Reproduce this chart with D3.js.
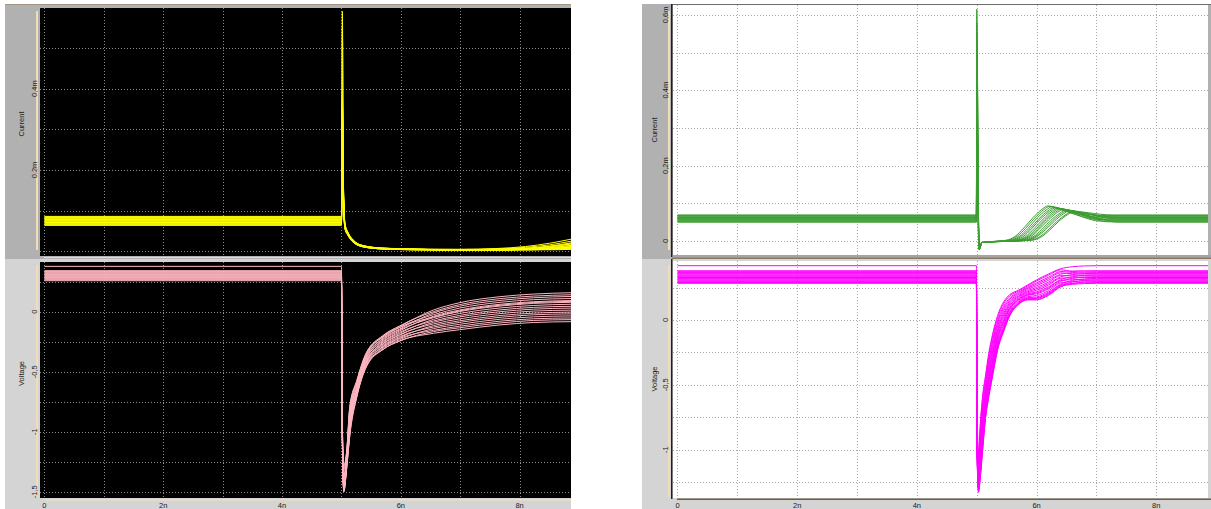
<!DOCTYPE html>
<html>
<head>
<meta charset="utf-8">
<script src="https://cdn.jsdelivr.net/npm/d3@7"></script>
<style>
  html, body { margin: 0; padding: 0; background: #ffffff; }
  svg { display: block; }
  text { font-family: "Liberation Sans Narrow", "Liberation Sans", "DejaVu Sans", sans-serif; font-size: 7.5px; fill: #1a1a1a; }
</style>
</head>
<body>
<svg id="chart" width="1211" height="509"></svg>
<script>
// ---------- axes ----------
const X_DOMAIN = [-0.075, 8.865];              // ns
const gridTimes = [0, 1, 2, 3, 4, 5, 6, 7, 8];
const timeTicks = [0, 2, 4, 6, 8];
const timeTickLabels = ["0", "2n", "4n", "6n", "8n"];

const leftCurrentGrid = [0, 0.1, 0.2, 0.3, 0.4, 0.5];
const leftCurrentTicks = [0.2, 0.4];
const leftCurrentTickLabels = ["0,2m", "0,4m"];
const rightCurrentGrid = [0, 0.1, 0.2, 0.3, 0.4, 0.5, 0.6];
const rightCurrentTicks = [0, 0.2, 0.4, 0.6];
const rightCurrentTickLabels = ["0", "0,2m", "0,4m", "0,6m"];
const leftVoltageGrid = [0.25, 0, -0.25, -0.5, -0.75, -1, -1.25, -1.5];
const leftVoltageTicks = [0, -0.5, -1, -1.5];
const leftVoltageTickLabels = ["0", "-0,5", "-1", "-1,5"];
const rightVoltageGrid = [0.25, 0, -0.25, -0.5, -0.75, -1, -1.25];
const rightVoltageTicks = [0, -0.5, -1];
const rightVoltageTickLabels = ["0", "-0,5", "-1"];

// ---------- left window: current (mA) ----------
const lcTimes = [0, 5.0, 5.015, 5.035, 5.06, 5.11, 5.2, 5.37, 5.7, 6.3, 7.0, 7.6, 8.1, 8.5, 8.865];
const lcValues = [
  [0.086, 0.086, 0.590, 0.150, 0.066, 0.046, 0.027, 0.014, 0.008, 0.005, 0.005, 0.007, 0.012, 0.020, 0.030],
  [0.0845, 0.0845, 0.550, 0.140, 0.064, 0.045, 0.026, 0.013, 0.008, 0.005, 0.004, 0.006, 0.010, 0.016, 0.025],
  [0.083, 0.083, 0.395, 0.135, 0.063, 0.044, 0.026, 0.013, 0.007, 0.005, 0.004, 0.004, 0.005, 0.008, 0.012],
  [0.0815, 0.0815, 0.380, 0.160, 0.068, 0.047, 0.028, 0.014, 0.008, 0.006, 0.005, 0.006, 0.008, 0.013, 0.021],
  [0.080, 0.080, 0.370, 0.130, 0.062, 0.043, 0.025, 0.012, 0.007, 0.005, 0.004, 0.004, 0.005, 0.006, 0.008],
  [0.0785, 0.0785, 0.360, 0.145, 0.065, 0.045, 0.026, 0.013, 0.007, 0.005, 0.004, 0.005, 0.007, 0.011, 0.018],
  [0.077, 0.077, 0.350, 0.125, 0.060, 0.042, 0.024, 0.012, 0.007, 0.005, 0.004, 0.004, 0.004, 0.005, 0.007],
  [0.0755, 0.0755, 0.340, 0.155, 0.067, 0.046, 0.027, 0.014, 0.008, 0.005, 0.004, 0.005, 0.006, 0.009, 0.015],
  [0.074, 0.074, 0.330, 0.120, 0.058, 0.041, 0.024, 0.012, 0.006, 0.004, 0.004, 0.004, 0.005, 0.007, 0.010],
  [0.0725, 0.0725, 0.320, 0.138, 0.063, 0.044, 0.025, 0.013, 0.007, 0.005, 0.004, 0.004, 0.005, 0.009, 0.014],
  [0.071, 0.071, 0.300, 0.118, 0.057, 0.040, 0.023, 0.011, 0.006, 0.004, 0.003, 0.004, 0.004, 0.005, 0.006],
  [0.0695, 0.0695, 0.280, 0.132, 0.061, 0.043, 0.025, 0.012, 0.007, 0.005, 0.004, 0.005, 0.007, 0.012, 0.019],
  [0.068, 0.068, 0.260, 0.115, 0.056, 0.040, 0.023, 0.011, 0.006, 0.004, 0.003, 0.003, 0.004, 0.005, 0.007],
  [0.0665, 0.0665, 0.240, 0.128, 0.060, 0.042, 0.024, 0.012, 0.007, 0.005, 0.004, 0.004, 0.005, 0.007, 0.011],
  [0.065, 0.065, 0.220, 0.112, 0.055, 0.039, 0.022, 0.011, 0.006, 0.004, 0.003, 0.003, 0.004, 0.004, 0.005],
  [0.064, 0.064, 0.200, 0.124, 0.059, 0.041, 0.024, 0.012, 0.006, 0.004, 0.004, 0.004, 0.005, 0.006, 0.009]
];

// ---------- left window: voltage (V) ----------
const lvTimes = [0, 5.0, 5.013, 5.04, 5.09, 5.14, 5.26, 5.42, 5.70, 5.98, 6.55, 6.99, 7.67, 8.23, 8.865];
const lvValues = [
  [0.342, 0.342, -0.90, -1.36, -1.180, -0.840, -0.598, -0.364, -0.203, -0.124, 0.014, 0.075, 0.125, 0.147, 0.158],
  [0.336, 0.336, -0.88, -1.32, -1.158, -0.803, -0.577, -0.346, -0.198, -0.118, 0.000, 0.059, 0.109, 0.130, 0.141],
  [0.331, 0.331, -0.93, -1.40, -1.203, -0.878, -0.619, -0.382, -0.221, -0.144, -0.011, 0.046, 0.094, 0.116, 0.127],
  [0.325, 0.325, -0.86, -1.30, -1.165, -0.815, -0.584, -0.352, -0.210, -0.131, -0.025, 0.030, 0.078, 0.100, 0.110],
  [0.320, 0.320, -0.95, -1.44, -1.218, -0.903, -0.633, -0.394, -0.237, -0.160, -0.038, 0.014, 0.062, 0.083, 0.093],
  [0.314, 0.314, -0.90, -1.38, -1.188, -0.853, -0.605, -0.370, -0.228, -0.151, -0.050, 0.001, 0.047, 0.069, 0.078],
  [0.309, 0.309, -0.97, -1.46, -1.240, -0.940, -0.654, -0.412, -0.255, -0.180, -0.064, -0.015, 0.031, 0.052, 0.062],
  [0.303, 0.303, -0.92, -1.41, -1.210, -0.890, -0.626, -0.388, -0.247, -0.171, -0.077, -0.031, 0.015, 0.036, 0.045],
  [0.297, 0.297, -0.98, -1.48, -1.255, -0.965, -0.668, -0.424, -0.270, -0.196, -0.089, -0.044, 0.000, 0.021, 0.030],
  [0.292, 0.292, -0.94, -1.45, -1.233, -0.928, -0.647, -0.406, -0.265, -0.190, -0.102, -0.060, -0.016, 0.005, 0.013],
  [0.286, 0.286, -1.00, -1.50, -1.278, -1.003, -0.689, -0.442, -0.289, -0.216, -0.116, -0.076, -0.032, -0.012, -0.003],
  [0.281, 0.281, -0.96, -1.47, -1.248, -0.953, -0.661, -0.418, -0.280, -0.207, -0.128, -0.089, -0.047, -0.026, -0.018],
  [0.275, 0.275, -0.99, -1.49, -1.293, -1.028, -0.703, -0.454, -0.304, -0.233, -0.141, -0.105, -0.063, -0.043, -0.035],
  [0.270, 0.270, -0.95, -1.46, -1.263, -0.978, -0.675, -0.430, -0.295, -0.223, -0.155, -0.121, -0.079, -0.059, -0.052],
  [0.264, 0.264, -1.00, -1.50, -1.300, -1.040, -0.710, -0.460, -0.315, -0.245, -0.166, -0.134, -0.094, -0.073, -0.066],
  [0.258, 0.258, -0.97, -1.48, -1.285, -1.015, -0.696, -0.448, -0.314, -0.243, -0.180, -0.150, -0.110, -0.090, -0.083],
  [0.378, 0.378, -0.85, -1.28, -1.150, -0.790, -0.570, -0.340, -0.210, -0.131, -0.044, 0.007, 0.054, 0.076, 0.086]
];

// ---------- right window: current (mA), one list of [t, I] per run ----------
const rcTraces = [
  [[0, 0.064], [4.995, 0.064], [5.0, 0.615], [5.04, -0.024], [5.09, -0.004], [5.49, 0.002], [5.64, 0.012], [5.79, 0.035], [5.94, 0.062], [6.09, 0.084], [6.19, 0.093], [6.34, 0.087], [6.54, 0.0785], [6.74, 0.070], [6.94, 0.064], [8.865, 0.064]],
  [[0, 0.058], [4.995, 0.058], [5.0, 0.580], [5.04, -0.022], [5.09, -0.004], [5.52, 0.002], [5.67, 0.012], [5.82, 0.034], [5.97, 0.061], [6.12, 0.083], [6.22, 0.092], [6.37, 0.085], [6.57, 0.075], [6.77, 0.065], [6.97, 0.058], [8.865, 0.058]],
  [[0, 0.068], [4.995, 0.068], [5.0, 0.550], [5.04, -0.020], [5.09, -0.004], [5.56, 0.002], [5.71, 0.012], [5.86, 0.034], [6.01, 0.061], [6.16, 0.082], [6.26, 0.091], [6.41, 0.086], [6.61, 0.080], [6.81, 0.073], [7.01, 0.068], [8.865, 0.068]],
  [[0, 0.053], [4.995, 0.053], [5.0, 0.500], [5.04, -0.018], [5.09, -0.004], [5.59, 0.002], [5.74, 0.012], [5.89, 0.033], [6.04, 0.059], [6.19, 0.080], [6.29, 0.089], [6.44, 0.082], [6.64, 0.071], [6.84, 0.060], [7.04, 0.053], [8.865, 0.053]],
  [[0, 0.061], [4.995, 0.061], [5.0, 0.450], [5.04, -0.021], [5.09, -0.004], [5.62, 0.002], [5.77, 0.011], [5.92, 0.033], [6.07, 0.059], [6.22, 0.079], [6.32, 0.088], [6.47, 0.083], [6.67, 0.075], [6.87, 0.066], [7.07, 0.061], [8.865, 0.061]],
  [[0, 0.056], [4.995, 0.056], [5.0, 0.400], [5.04, -0.017], [5.09, -0.004], [5.66, 0.002], [5.81, 0.011], [5.96, 0.033], [6.11, 0.058], [6.26, 0.079], [6.36, 0.087], [6.51, 0.081], [6.71, 0.072], [6.91, 0.062], [7.11, 0.056], [8.865, 0.056]],
  [[0, 0.066], [4.995, 0.066], [5.0, 0.380], [5.04, -0.015], [5.09, -0.004], [5.69, 0.002], [5.84, 0.011], [5.99, 0.032], [6.14, 0.057], [6.29, 0.078], [6.39, 0.086], [6.54, 0.082], [6.74, 0.076], [6.94, 0.070], [7.14, 0.066], [8.865, 0.066]],
  [[0, 0.051], [4.995, 0.051], [5.0, 0.370], [5.04, -0.023], [5.09, -0.004], [5.72, 0.002], [5.87, 0.011], [6.02, 0.032], [6.17, 0.057], [6.32, 0.077], [6.42, 0.085], [6.57, 0.078], [6.77, 0.068], [6.97, 0.058], [7.17, 0.051], [8.865, 0.051]],
  [[0, 0.063], [4.995, 0.063], [5.0, 0.360], [5.04, -0.019], [5.09, -0.004], [5.75, 0.002], [5.90, 0.011], [6.05, 0.032], [6.20, 0.056], [6.35, 0.076], [6.45, 0.084], [6.60, 0.080], [6.80, 0.074], [7.00, 0.067], [7.20, 0.063], [8.865, 0.063]],
  [[0, 0.055], [4.995, 0.055], [5.0, 0.300], [5.04, -0.016], [5.09, -0.004], [5.79, 0.002], [5.94, 0.011], [6.09, 0.031], [6.24, 0.055], [6.39, 0.074], [6.49, 0.082], [6.64, 0.077], [6.84, 0.069], [7.04, 0.060], [7.24, 0.055], [8.865, 0.055]],
  [[0, 0.069], [4.995, 0.069], [5.0, 0.250], [5.04, -0.020], [5.09, -0.004], [5.82, 0.002], [5.97, 0.011], [6.12, 0.030], [6.27, 0.054], [6.42, 0.073], [6.52, 0.081], [6.67, 0.079], [6.87, 0.075], [7.07, 0.071], [7.27, 0.069], [8.865, 0.069]],
  [[0, 0.059], [4.995, 0.059], [5.0, 0.200], [5.04, -0.018], [5.09, -0.004], [5.85, 0.002], [6.00, 0.011], [6.15, 0.030], [6.30, 0.053], [6.45, 0.072], [6.55, 0.080], [6.70, 0.076], [6.90, 0.070], [7.10, 0.063], [7.30, 0.059], [8.865, 0.059]],
  [[0, 0.050], [4.995, 0.050], [5.0, 0.160], [5.04, -0.022], [5.09, -0.004], [5.89, 0.002], [6.04, 0.010], [6.19, 0.029], [6.34, 0.052], [6.49, 0.070], [6.59, 0.078], [6.74, 0.072], [6.94, 0.064], [7.14, 0.056], [7.34, 0.050], [8.865, 0.050]],
  [[0, 0.062], [4.995, 0.062], [5.0, 0.370], [5.04, -0.017], [5.09, -0.004], [5.92, 0.002], [6.07, 0.010], [6.22, 0.029], [6.37, 0.052], [6.52, 0.070], [6.62, 0.077], [6.77, 0.074], [6.97, 0.070], [7.17, 0.065], [7.37, 0.062], [8.865, 0.062]]
];

// ---------- right window: voltage (V) ----------
const rvTimes = [0, 4.995, 5.005, 5.03, 5.06, 5.1, 5.15, 5.2, 5.27, 5.35, 5.45, 5.55, 5.7, 5.85, 6.0, 6.2, 6.4, 6.6, 6.8, 7.0, 8.865];
const rvValues = [
  [0.419, 0.419, -0.62, -1.050, -0.800, -0.580, -0.420, -0.260, -0.100, 0.035, 0.140, 0.195, 0.230, 0.270, 0.310, 0.355, 0.395, 0.411, 0.417, 0.419, 0.419],
  [0.380, 0.380, -0.70, -1.092, -0.863, -0.643, -0.470, -0.311, -0.148, -0.005, 0.106, 0.170, 0.214, 0.253, 0.287, 0.330, 0.374, 0.378, 0.380, 0.380, 0.380],
  [0.373, 0.373, -0.78, -1.134, -0.926, -0.706, -0.519, -0.362, -0.196, -0.045, 0.071, 0.146, 0.197, 0.236, 0.264, 0.306, 0.353, 0.366, 0.371, 0.373, 0.373],
  [0.367, 0.367, -0.66, -1.067, -0.825, -0.605, -0.440, -0.280, -0.119, 0.019, 0.126, 0.185, 0.223, 0.263, 0.301, 0.345, 0.387, 0.374, 0.369, 0.367, 0.367],
  [0.360, 0.360, -0.85, -1.176, -0.989, -0.769, -0.569, -0.413, -0.244, -0.084, 0.037, 0.121, 0.181, 0.218, 0.240, 0.281, 0.332, 0.350, 0.358, 0.360, 0.360],
  [0.354, 0.354, -0.74, -1.112, -0.892, -0.672, -0.493, -0.335, -0.170, -0.023, 0.089, 0.159, 0.206, 0.245, 0.276, 0.319, 0.364, 0.357, 0.355, 0.354, 0.354],
  [0.347, 0.347, -0.90, -1.218, -1.052, -0.832, -0.618, -0.464, -0.292, -0.124, 0.002, 0.096, 0.164, 0.201, 0.217, 0.256, 0.311, 0.334, 0.344, 0.347, 0.347],
  [0.341, 0.341, -0.80, -1.156, -0.960, -0.740, -0.545, -0.389, -0.222, -0.066, 0.053, 0.132, 0.188, 0.226, 0.251, 0.292, 0.342, 0.341, 0.341, 0.341, 0.341],
  [0.334, 0.334, -0.95, -1.246, -1.094, -0.874, -0.651, -0.498, -0.324, -0.151, -0.021, 0.080, 0.153, 0.190, 0.202, 0.240, 0.297, 0.321, 0.331, 0.334, 0.334],
  [0.328, 0.328, -0.88, -1.196, -1.018, -0.798, -0.592, -0.437, -0.266, -0.103, 0.020, 0.109, 0.173, 0.210, 0.229, 0.269, 0.322, 0.326, 0.328, 0.328, 0.328],
  [0.321, 0.321, -0.98, -1.288, -1.157, -0.937, -0.701, -0.549, -0.372, -0.190, -0.056, 0.055, 0.137, 0.172, 0.178, 0.215, 0.276, 0.305, 0.317, 0.321, 0.321],
  [0.315, 0.315, -0.92, -1.232, -1.073, -0.853, -0.635, -0.481, -0.308, -0.137, -0.010, 0.088, 0.159, 0.195, 0.209, 0.248, 0.304, 0.311, 0.314, 0.315, 0.315],
  [0.308, 0.308, -1.00, -1.310, -1.191, -0.971, -0.727, -0.576, -0.398, -0.211, -0.074, 0.042, 0.128, 0.163, 0.166, 0.202, 0.265, 0.293, 0.305, 0.308, 0.308],
  [0.302, 0.302, -0.96, -1.268, -1.128, -0.908, -0.677, -0.525, -0.350, -0.172, -0.039, 0.066, 0.144, 0.180, 0.189, 0.226, 0.286, 0.296, 0.301, 0.302, 0.302],
  [0.296, 0.296, -1.00, -1.330, -1.220, -1.000, -0.750, -0.600, -0.420, -0.230, -0.090, 0.030, 0.120, 0.155, 0.155, 0.190, 0.255, 0.282, 0.293, 0.296, 0.296],
  [0.289, 0.289, -0.97, -1.302, -1.178, -0.958, -0.717, -0.566, -0.388, -0.204, -0.067, 0.047, 0.131, 0.167, 0.171, 0.207, 0.269, 0.282, 0.287, 0.289, 0.289],
  [0.283, 0.283, -0.99, -1.322, -1.207, -0.987, -0.740, -0.590, -0.410, -0.222, -0.083, 0.035, 0.123, 0.158, 0.160, 0.195, 0.259, 0.275, 0.281, 0.283, 0.283]
];

// ---------- drawing ----------
const svg = d3.select("#chart");
const STRIP_DARK = "#b1b1b1";
const STRIP_LIGHT = "#d4d4d4";
const TAN = "#f2dcb6";

const rowsToTraces = (times, rows) => rows.map(r => d3.zip(times, r));

function frame(left, right, plotLeft, axisX, dark) {
  // window backgrounds: current section (active, darker) and voltage section
  svg.append("rect").attr("x", left).attr("y", 4).attr("width", right - left).attr("height", 255).attr("fill", STRIP_DARK);
  svg.append("rect").attr("x", left).attr("y", 259).attr("width", right - left).attr("height", 250).attr("fill", STRIP_LIGHT);
  svg.append("line").attr("x1", dark ? left : plotLeft).attr("x2", right).attr("y1", 4.5).attr("y2", 4.5)
    .attr("stroke", dark ? "#a39583" : "#6e6e6e");
  // tan y-axis rules
  svg.append("rect").attr("x", axisX).attr("y", 11).attr("width", 2).attr("height", 239).attr("fill", TAN);
  svg.append("rect").attr("x", axisX).attr("y", 265).attr("width", 2).attr("height", 232).attr("fill", TAN);
}

function subplot(cfg) {
  const x = d3.scaleLinear().domain(X_DOMAIN).range(cfg.xr);
  const y = d3.scaleLinear().domain(cfg.yd).range([cfg.yr[1], cfg.yr[0]]);
  const g = svg.append("g");
  const w = cfg.xr[1] - cfg.xr[0], h = cfg.yr[1] - cfg.yr[0];

  g.append("rect").attr("x", cfg.xr[0]).attr("y", cfg.yr[0]).attr("width", w).attr("height", h).attr("fill", cfg.bg);

  svg.append("clipPath").attr("id", "clip-" + cfg.id)
    .append("rect").attr("x", cfg.xr[0]).attr("y", cfg.yr[0]).attr("width", w).attr("height", h);

  // dotted grid
  const grid = g.append("g").attr("stroke", cfg.gridColor).attr("stroke-width", 1).attr("stroke-dasharray", "1,2");
  grid.selectAll(null).data(gridTimes).join("line")
    .attr("x1", d => Math.round(x(d)) + 0.5).attr("x2", d => Math.round(x(d)) + 0.5)
    .attr("y1", cfg.yr[0]).attr("y2", cfg.yr[1]);
  grid.selectAll(null).data(cfg.grid.filter(v => y(v) > cfg.yr[0] && y(v) < cfg.yr[1])).join("line")
    .attr("x1", cfg.xr[0]).attr("x2", cfg.xr[1])
    .attr("y1", d => Math.round(y(d)) + 0.5).attr("y2", d => Math.round(y(d)) + 0.5);

  // traces
  const line = d3.line().x(d => x(d[0])).y(d => y(d[1])).curve(d3.curveMonotoneX);
  g.append("g").attr("clip-path", `url(#clip-${cfg.id})`)
    .selectAll("path").data(cfg.traces).join("path")
    .attr("d", line).attr("fill", "none").attr("stroke", cfg.color).attr("stroke-width", 1);

  // rotated y tick labels
  g.selectAll(null).data(cfg.ticks).join("text")
    .attr("transform", d => `translate(${cfg.tickX},${y(d)}) rotate(-90)`)
    .attr("text-anchor", "middle").attr("dy", "0.35em")
    .text((d, i) => cfg.tickLabels[i]);

  // axis title
  g.append("text")
    .attr("transform", `translate(${cfg.titleX},${cfg.titleY}) rotate(-90)`)
    .attr("text-anchor", "middle").attr("dy", "0.35em")
    .text(cfg.title);

  // x tick labels under the lower plot
  if (cfg.xLabels) {
    g.selectAll(null).data(timeTicks).join("text")
      .attr("x", d => x(d)).attr("y", 508)
      .attr("text-anchor", "middle")
      .text((d, i) => timeTickLabels[i]);
  }
  return x;
}

// ----- left window (black plots) -----
frame(5, 571, 40, 36, true);
subplot({
  id: "lc", xr: [40, 571], yr: [8, 256], yd: [-0.0113, 0.598], bg: "#000000", gridColor: "#8c8c8c",
  grid: leftCurrentGrid, ticks: leftCurrentTicks, tickLabels: leftCurrentTickLabels,
  tickX: 34.5, title: "Current", titleX: 21.5, titleY: 124,
  traces: rowsToTraces(lcTimes, lcValues), color: "#ffff00"
});
subplot({
  id: "lv", xr: [40, 571], yr: [262, 498], yd: [-1.5525, 0.4142], bg: "#000000", gridColor: "#8c8c8c",
  grid: leftVoltageGrid, ticks: leftVoltageTicks, tickLabels: leftVoltageTickLabels,
  tickX: 34.5, title: "Voltage", titleX: 21.5, titleY: 373.5,
  traces: rowsToTraces(lvTimes, lvValues), color: "#ffb6c1", xLabels: true
});
// tan x-axis rules of the left window
svg.append("rect").attr("x", 44).attr("y", 257).attr("width", 527).attr("height", 1).attr("fill", TAN);
svg.append("rect").attr("x", 44).attr("y", 499).attr("width", 527).attr("height", 1.5).attr("fill", TAN);

// ----- right window (white plots) -----
frame(642, 1211, 672, 668, false);
subplot({
  id: "rc", xr: [673, 1208], yr: [5, 255], yd: [-0.0371, 0.626], bg: "#ffffff", gridColor: "#a8a8a8",
  grid: rightCurrentGrid, ticks: rightCurrentTicks, tickLabels: rightCurrentTickLabels,
  tickX: 665.5, title: "Current", titleX: 654, titleY: 130,
  traces: rcTraces, color: "#3b9c30"
});
subplot({
  id: "rv", xr: [673, 1208], yr: [261, 498], yd: [-1.3735, 0.4552], bg: "#ffffff", gridColor: "#a8a8a8",
  grid: rightVoltageGrid, ticks: rightVoltageTicks, tickLabels: rightVoltageTickLabels,
  tickX: 665.5, title: "Voltage", titleX: 654, titleY: 379,
  traces: rowsToTraces(rvTimes, rvValues), color: "#ff00ff", xLabels: true
});
// plot borders of the right window
svg.append("rect").attr("x", 671).attr("y", 4).attr("width", 1.5).attr("height", 253).attr("fill", "#202020");
svg.append("rect").attr("x", 671).attr("y", 259).attr("width", 1.5).attr("height", 240).attr("fill", "#202020");
svg.append("rect").attr("x", 672).attr("y", 255.5).attr("width", 539).attr("height", 1).attr("fill", "#9a9a9a");
svg.append("rect").attr("x", 672).attr("y", 257.5).attr("width", 539).attr("height", 1.5).attr("fill", "#8a7862");
svg.append("rect").attr("x", 677).attr("y", 498.5).attr("width", 534).attr("height", 1.5).attr("fill", "#6e5c46");
</script>
</body>
</html>
